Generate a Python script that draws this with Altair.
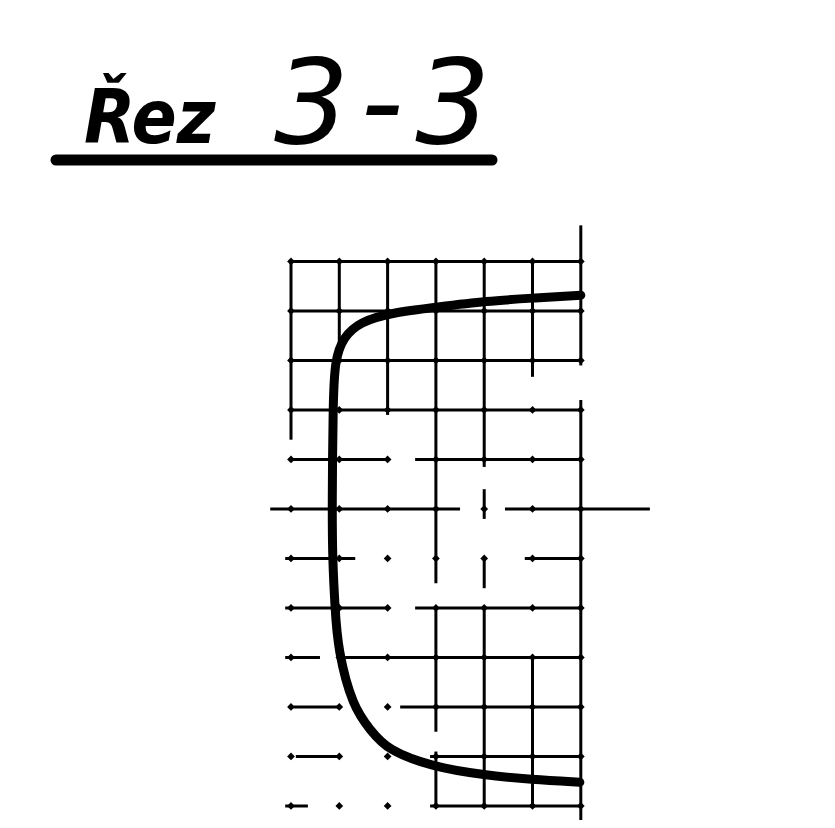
import altair as alt
import pandas as pd

# trace, in grid divisions
trace_x = [6.0, 5.0, 4.05, 3.04, 2.05, 1.43, 1.08, 0.91, 0.87, 0.85, 0.86, 0.91, 0.97, 1.28, 1.64, 1.99, 2.94, 3.95, 4.99, 5.98]
trace_y = [4.32, 4.26, 4.2, 4.08, 3.96, 3.78, 3.47, 3.01, 2.2, 0.0, -1.0, -1.98, -2.85, -4.0, -4.46, -4.87, -5.21, -5.37, -5.47, -5.52]

# graticule pieces that survive in the print (grid divisions)
h_y = [5, 4, 3, 2, 1, 1, 0, 0, -1, -1, -2, -2, -3, -3, -4, -4, -5, -5, -6, -6]
h_x1 = [0, 0, 0, 0, 0, 2.57, -0.43, 4.43, -0.12, 4.84, -0.12, 2.57, -0.12, 1.12, 0.05, 2.26, 0.1, 2.88, -0.12, 2.88]
h_x2 = [6, 6, 6, 6, 1.97, 6, 3.5, 7.43, 1.33, 6, 1.97, 6, 0.6, 6, 1.0, 6, 1.0, 6, 0.35, 6]

v_x = [0, 1, 2, 3, 3, 3, 4, 4, 4, 4, 5, 5, 6, 6]
v_y1 = [5, 5, 5, 5, -2, -4.9, 5, 0.4, -1, -2, 5, -3, 5.73, 2.2]
v_y2 = [1.4, 3, 1.9, -1.5, -4.5, -6, 0.85, -0.2, -1.6, -6, 2.67, -6, 2.9, -6.45]

node_x = [0, 1, 2, 3, 4, 5, 6]
node_y = [5, 4, 3, 2, 1, 0, -1, -2, -3, -4, -5, -6]

title_small = "Řez"
title_big = "3\u200a-\u200a3"

X_DOM = [-5.859, 11.097]
Y_DOM = [-6.283, 10.121]

trace = pd.DataFrame({"i": range(len(trace_x)), "x": trace_x, "y": trace_y})
verts = pd.DataFrame({"x": v_x, "y": v_y1, "y2": v_y2})
horiz = pd.DataFrame({"y": h_y, "x": h_x1, "x2": h_x2})
nodes = pd.DataFrame([(a, b) for a in node_x for b in node_y], columns=["x", "y"])

xs = alt.Scale(domain=X_DOM, nice=False, zero=False)
ys = alt.Scale(domain=Y_DOM, nice=False, zero=False)

vlines = alt.Chart(verts).mark_rule(color="black", strokeWidth=3).encode(
    x=alt.X("x:Q", scale=xs, axis=None),
    y=alt.Y("y:Q", scale=ys, axis=None),
    y2="y2:Q",
)

hlines = alt.Chart(horiz).mark_rule(color="black", strokeWidth=3).encode(
    x=alt.X("x:Q", scale=xs, axis=None),
    x2="x2:Q",
    y=alt.Y("y:Q", scale=ys, axis=None),
)

dots = alt.Chart(nodes).mark_point(
    shape="diamond", filled=True, color="black", size=60, opacity=1
).encode(
    x=alt.X("x:Q", scale=xs, axis=None),
    y=alt.Y("y:Q", scale=ys, axis=None),
)

curve = alt.Chart(trace).mark_line(
    color="black", strokeWidth=9, interpolate="basis", strokeCap="round"
).encode(
    x=alt.X("x:Q", scale=xs, axis=None),
    y=alt.Y("y:Q", scale=ys, axis=None),
    order="i:Q",
)

t1 = alt.Chart(pd.DataFrame({"t": [title_small]})).mark_text(
    font="DejaVu Sans Condensed", fontSize=74, fontStyle="italic", fontWeight="bold",
    align="left", baseline="alphabetic", color="black"
).encode(x=alt.value(76), y=alt.value(135), text="t:N")

t2 = alt.Chart(pd.DataFrame({"t": [title_big]})).mark_text(
    font="DejaVu Sans", fontSize=118, fontStyle="italic",
    align="left", baseline="alphabetic", color="black"
).encode(x=alt.value(266), y=alt.value(135), text="t:N")

underline = alt.Chart(pd.DataFrame({"t": [title_big]})).mark_rule(
    color="black", strokeWidth=11, strokeCap="round"
).encode(x=alt.value(48), x2=alt.value(484), y=alt.value(152))

chart = alt.layer(vlines, hlines, dots, curve, t1, t2, underline).properties(
    width=819, height=812, padding=0, autosize=alt.AutoSizeParams(type="none")
).configure_view(stroke=None)

chart.save("out.html", embed_options={"renderer": "svg", "actions": False})
